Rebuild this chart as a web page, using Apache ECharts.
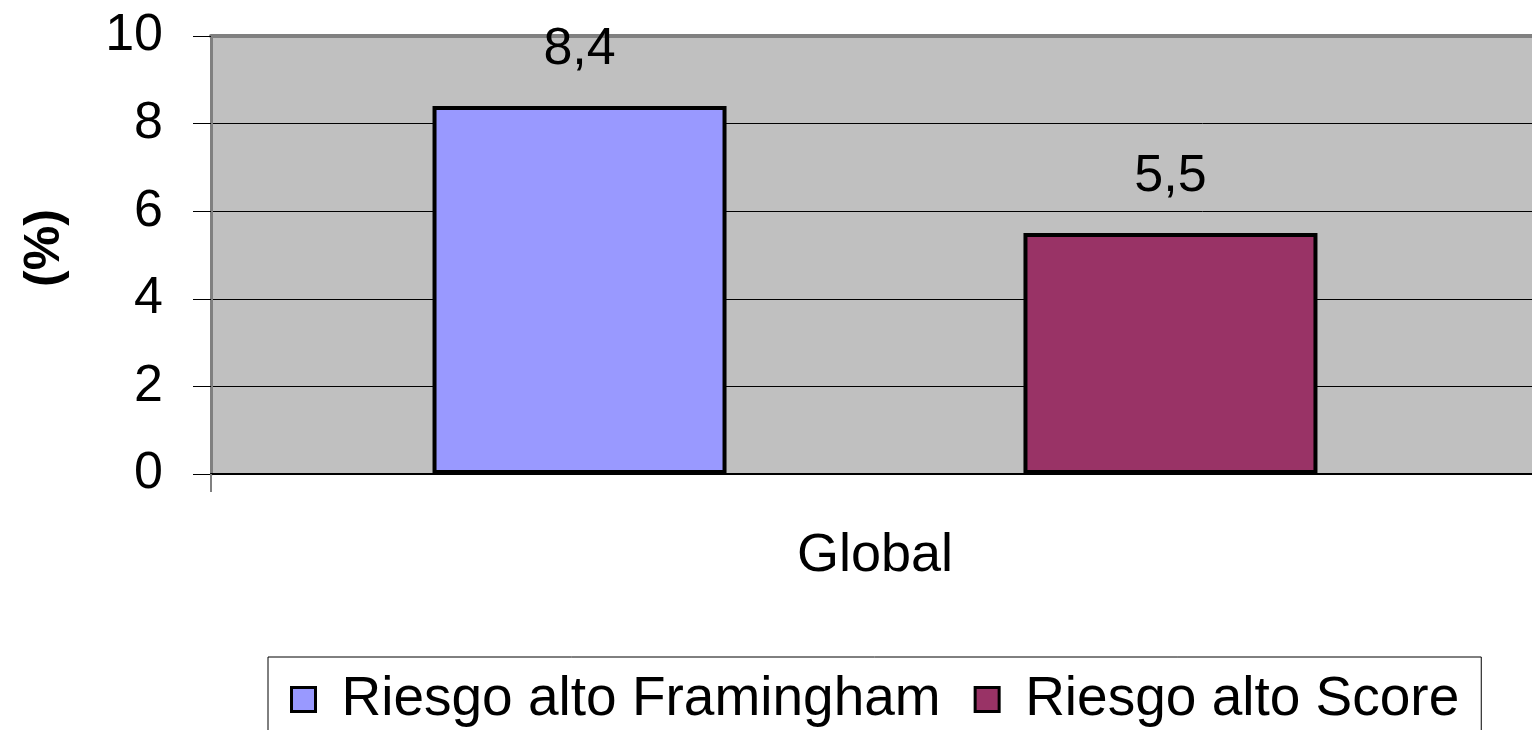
<!DOCTYPE html>
<html>
<head>
<meta charset="utf-8">
<script src="https://cdn.jsdelivr.net/npm/echarts@6/dist/echarts.min.js"></script>
<style>html,body{margin:0;padding:0;background:#fff;}#c{width:1532px;height:730px;}</style>
</head>
<body>
<div id="c"></div>
<script>
var categories = ['Global'];
var seriesNames = ['Riesgo alto Framingham', 'Riesgo alto Score'];
var framinghamValues = [8.4];
var scoreValues = [5.5];
var yTicks = [0, 2, 4, 6, 8, 10];
var seriesColors = ['#9999FF', '#993366'];

var font = 'Liberation Sans, Arial, sans-serif';
var chart = echarts.init(document.getElementById('c'), null, {renderer: 'canvas'});

function fmt(p) { return String(p.value).replace('.', ','); }

chart.setOption({
  animation: false,
  textStyle: {fontFamily: font},
  grid: {left: 211, top: 36, right: -7, bottom: 256, show: true, backgroundColor: '#C0C0C0', borderWidth: 0,
         containLabel: false, outerBoundsMode: 'none'},
  legend: {
    left: 268, top: 657,
    padding: [15, 22, 20, 22],
    borderColor: '#000', borderWidth: 1,
    itemWidth: 24, itemHeight: 24, itemGap: 33,
    icon: 'rect',
    itemStyle: {borderColor: '#000', borderWidth: 3},
    textStyle: {fontSize: 55, color: '#000', fontFamily: font, padding: [0, 0, 0, 21]},
    data: seriesNames
  },
  xAxis: [{
    type: 'category', data: categories, position: 'bottom',
    axisLine: {lineStyle: {color: '#000', width: 2}},
    axisTick: {show: true, length: 18, lineStyle: {color: '#808080', width: 2}},
    axisLabel: {fontSize: 54, color: '#000', margin: 55, fontFamily: font}
  }, {
    type: 'category', data: categories, position: 'top',
    axisLine: {lineStyle: {color: '#808080', width: 4}},
    axisTick: {show: false}, axisLabel: {show: false}
  }],
  yAxis: {
    type: 'value', min: yTicks[0], max: yTicks[yTicks.length - 1], interval: 2,
    name: '(%)', nameLocation: 'middle', nameGap: 141, nameRotate: 90,
    nameTextStyle: {fontSize: 50, fontWeight: 'bold', color: '#000', fontFamily: font, padding: [0, 0, 0, 14]},
    axisLine: {show: true, lineStyle: {color: '#808080', width: 3}},
    axisTick: {show: true, length: 18, lineStyle: {color: '#000', width: 1}},
    axisLabel: {fontSize: 52, color: '#000', margin: 48, fontFamily: font},
    splitLine: {show: true, lineStyle: {color: '#000', width: 1}}
  },
  series: [{
    name: seriesNames[0], type: 'bar', data: framinghamValues,
    barWidth: 294, barGap: '101%',
    itemStyle: {color: seriesColors[0], borderColor: '#000', borderWidth: 4},
    label: {show: true, position: 'top', distance: 30, fontSize: 52, color: '#000', formatter: fmt, fontFamily: font}
  }, {
    name: seriesNames[1], type: 'bar', data: scoreValues,
    barWidth: 294,
    itemStyle: {color: seriesColors[1], borderColor: '#000', borderWidth: 4},
    label: {show: true, position: 'top', distance: 30, fontSize: 52, color: '#000', formatter: fmt, fontFamily: font}
  }]
});
</script>
</body>
</html>
